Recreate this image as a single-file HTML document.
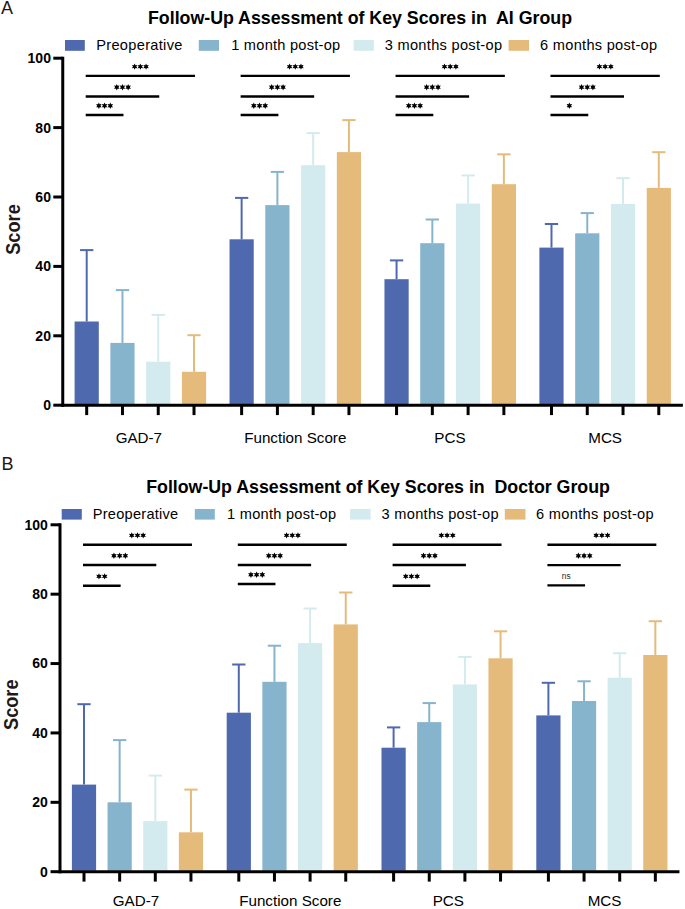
<!DOCTYPE html>
<html><head><meta charset="utf-8"><style>
html,body{margin:0;padding:0;background:#fff;width:685px;height:909px;overflow:hidden}
svg{display:block}
text{font-family:"Liberation Sans", sans-serif}
</style></head><body>
<svg width="685" height="909" viewBox="0 0 685 909">
<rect width="685" height="909" fill="#fff"/>
<text x="1.00" y="13.80" font-size="18" font-weight="normal" text-anchor="start" fill="#231815" >A</text>
<text x="148.00" y="24.00" font-size="17.8" font-weight="bold" text-anchor="start" fill="#000" textLength="424" xml:space="preserve">Follow-Up Assessment of Key Scores in  AI Group</text>
<rect x="65.00" y="40.00" width="19.80" height="10.80" fill="#4F69AF"/>
<text x="96.20" y="50.25" font-size="14.6" font-weight="normal" text-anchor="start" fill="#000" textLength="86.2">Preoperative</text>
<rect x="198.80" y="40.00" width="20.20" height="10.80" fill="#86B4CD"/>
<text x="231.20" y="50.25" font-size="14.6" font-weight="normal" text-anchor="start" fill="#000" textLength="109.0">1 month post-op</text>
<rect x="353.60" y="40.00" width="20.30" height="10.80" fill="#D3EBEE"/>
<text x="384.70" y="50.25" font-size="14.6" font-weight="normal" text-anchor="start" fill="#000" textLength="117.3">3 months post-op</text>
<rect x="508.60" y="40.00" width="20.40" height="10.80" fill="#E5BB7C"/>
<text x="540.10" y="50.25" font-size="14.6" font-weight="normal" text-anchor="start" fill="#000" textLength="117.0">6 months post-op</text>
<line x1="86.70" y1="321.50" x2="86.70" y2="250.10" stroke="#4F69AF" stroke-width="2.0"/>
<line x1="80.05" y1="250.10" x2="93.35" y2="250.10" stroke="#4F69AF" stroke-width="2.0"/>
<rect x="74.60" y="321.50" width="24.20" height="82.70" fill="#4F69AF"/>
<line x1="86.70" y1="405.20" x2="86.70" y2="415.10" stroke="#000" stroke-width="3.0"/>
<line x1="122.47" y1="342.90" x2="122.47" y2="290.10" stroke="#86B4CD" stroke-width="2.0"/>
<line x1="115.82" y1="290.10" x2="129.12" y2="290.10" stroke="#86B4CD" stroke-width="2.0"/>
<rect x="110.37" y="342.90" width="24.20" height="61.30" fill="#86B4CD"/>
<line x1="122.47" y1="405.20" x2="122.47" y2="415.10" stroke="#000" stroke-width="3.0"/>
<line x1="158.24" y1="361.70" x2="158.24" y2="314.90" stroke="#D3EBEE" stroke-width="2.0"/>
<line x1="151.59" y1="314.90" x2="164.89" y2="314.90" stroke="#D3EBEE" stroke-width="2.0"/>
<rect x="146.14" y="361.70" width="24.20" height="42.50" fill="#D3EBEE"/>
<line x1="158.24" y1="405.20" x2="158.24" y2="415.10" stroke="#000" stroke-width="3.0"/>
<line x1="194.01" y1="371.80" x2="194.01" y2="335.20" stroke="#E5BB7C" stroke-width="2.0"/>
<line x1="187.36" y1="335.20" x2="200.66" y2="335.20" stroke="#E5BB7C" stroke-width="2.0"/>
<rect x="181.91" y="371.80" width="24.20" height="32.40" fill="#E5BB7C"/>
<line x1="194.01" y1="405.20" x2="194.01" y2="415.10" stroke="#000" stroke-width="3.0"/>
<line x1="241.63" y1="239.30" x2="241.63" y2="197.90" stroke="#4F69AF" stroke-width="2.0"/>
<line x1="234.98" y1="197.90" x2="248.28" y2="197.90" stroke="#4F69AF" stroke-width="2.0"/>
<rect x="229.53" y="239.30" width="24.20" height="164.90" fill="#4F69AF"/>
<line x1="241.63" y1="405.20" x2="241.63" y2="415.10" stroke="#000" stroke-width="3.0"/>
<line x1="277.40" y1="205.10" x2="277.40" y2="171.90" stroke="#86B4CD" stroke-width="2.0"/>
<line x1="270.75" y1="171.90" x2="284.05" y2="171.90" stroke="#86B4CD" stroke-width="2.0"/>
<rect x="265.30" y="205.10" width="24.20" height="199.10" fill="#86B4CD"/>
<line x1="277.40" y1="405.20" x2="277.40" y2="415.10" stroke="#000" stroke-width="3.0"/>
<line x1="313.17" y1="165.20" x2="313.17" y2="133.10" stroke="#D3EBEE" stroke-width="2.0"/>
<line x1="306.52" y1="133.10" x2="319.82" y2="133.10" stroke="#D3EBEE" stroke-width="2.0"/>
<rect x="301.07" y="165.20" width="24.20" height="239.00" fill="#D3EBEE"/>
<line x1="313.17" y1="405.20" x2="313.17" y2="415.10" stroke="#000" stroke-width="3.0"/>
<line x1="348.94" y1="152.10" x2="348.94" y2="120.10" stroke="#E5BB7C" stroke-width="2.0"/>
<line x1="342.29" y1="120.10" x2="355.59" y2="120.10" stroke="#E5BB7C" stroke-width="2.0"/>
<rect x="336.84" y="152.10" width="24.20" height="252.10" fill="#E5BB7C"/>
<line x1="348.94" y1="405.20" x2="348.94" y2="415.10" stroke="#000" stroke-width="3.0"/>
<line x1="396.56" y1="279.20" x2="396.56" y2="260.40" stroke="#4F69AF" stroke-width="2.0"/>
<line x1="389.91" y1="260.40" x2="403.21" y2="260.40" stroke="#4F69AF" stroke-width="2.0"/>
<rect x="384.46" y="279.20" width="24.20" height="125.00" fill="#4F69AF"/>
<line x1="396.56" y1="405.20" x2="396.56" y2="415.10" stroke="#000" stroke-width="3.0"/>
<line x1="432.33" y1="243.20" x2="432.33" y2="219.50" stroke="#86B4CD" stroke-width="2.0"/>
<line x1="425.68" y1="219.50" x2="438.98" y2="219.50" stroke="#86B4CD" stroke-width="2.0"/>
<rect x="420.23" y="243.20" width="24.20" height="161.00" fill="#86B4CD"/>
<line x1="432.33" y1="405.20" x2="432.33" y2="415.10" stroke="#000" stroke-width="3.0"/>
<line x1="468.10" y1="203.50" x2="468.10" y2="175.40" stroke="#D3EBEE" stroke-width="2.0"/>
<line x1="461.45" y1="175.40" x2="474.75" y2="175.40" stroke="#D3EBEE" stroke-width="2.0"/>
<rect x="456.00" y="203.50" width="24.20" height="200.70" fill="#D3EBEE"/>
<line x1="468.10" y1="405.20" x2="468.10" y2="415.10" stroke="#000" stroke-width="3.0"/>
<line x1="503.87" y1="184.20" x2="503.87" y2="154.30" stroke="#E5BB7C" stroke-width="2.0"/>
<line x1="497.22" y1="154.30" x2="510.52" y2="154.30" stroke="#E5BB7C" stroke-width="2.0"/>
<rect x="491.77" y="184.20" width="24.20" height="220.00" fill="#E5BB7C"/>
<line x1="503.87" y1="405.20" x2="503.87" y2="415.10" stroke="#000" stroke-width="3.0"/>
<line x1="551.49" y1="247.60" x2="551.49" y2="224.00" stroke="#4F69AF" stroke-width="2.0"/>
<line x1="544.84" y1="224.00" x2="558.14" y2="224.00" stroke="#4F69AF" stroke-width="2.0"/>
<rect x="539.39" y="247.60" width="24.20" height="156.60" fill="#4F69AF"/>
<line x1="551.49" y1="405.20" x2="551.49" y2="415.10" stroke="#000" stroke-width="3.0"/>
<line x1="587.26" y1="233.30" x2="587.26" y2="213.10" stroke="#86B4CD" stroke-width="2.0"/>
<line x1="580.61" y1="213.10" x2="593.91" y2="213.10" stroke="#86B4CD" stroke-width="2.0"/>
<rect x="575.16" y="233.30" width="24.20" height="170.90" fill="#86B4CD"/>
<line x1="587.26" y1="405.20" x2="587.26" y2="415.10" stroke="#000" stroke-width="3.0"/>
<line x1="623.03" y1="203.90" x2="623.03" y2="178.20" stroke="#D3EBEE" stroke-width="2.0"/>
<line x1="616.38" y1="178.20" x2="629.68" y2="178.20" stroke="#D3EBEE" stroke-width="2.0"/>
<rect x="610.93" y="203.90" width="24.20" height="200.30" fill="#D3EBEE"/>
<line x1="623.03" y1="405.20" x2="623.03" y2="415.10" stroke="#000" stroke-width="3.0"/>
<line x1="658.80" y1="187.90" x2="658.80" y2="152.20" stroke="#E5BB7C" stroke-width="2.0"/>
<line x1="652.15" y1="152.20" x2="665.45" y2="152.20" stroke="#E5BB7C" stroke-width="2.0"/>
<rect x="646.70" y="187.90" width="24.20" height="216.30" fill="#E5BB7C"/>
<line x1="658.80" y1="405.20" x2="658.80" y2="415.10" stroke="#000" stroke-width="3.0"/>
<line x1="62.75" y1="56.70" x2="62.75" y2="406.70" stroke="#000" stroke-width="3.0"/>
<line x1="61.25" y1="405.20" x2="682.90" y2="405.20" stroke="#000" stroke-width="3.0"/>
<line x1="53.30" y1="58.20" x2="62.75" y2="58.20" stroke="#000" stroke-width="3.0"/>
<text x="50.95" y="63.10" font-size="14" font-weight="bold" text-anchor="end" fill="#000" >100</text>
<line x1="53.30" y1="127.60" x2="62.75" y2="127.60" stroke="#000" stroke-width="3.0"/>
<text x="50.95" y="132.50" font-size="14" font-weight="bold" text-anchor="end" fill="#000" >80</text>
<line x1="53.30" y1="197.00" x2="62.75" y2="197.00" stroke="#000" stroke-width="3.0"/>
<text x="50.95" y="201.90" font-size="14" font-weight="bold" text-anchor="end" fill="#000" >60</text>
<line x1="53.30" y1="266.40" x2="62.75" y2="266.40" stroke="#000" stroke-width="3.0"/>
<text x="50.95" y="271.30" font-size="14" font-weight="bold" text-anchor="end" fill="#000" >40</text>
<line x1="53.30" y1="335.80" x2="62.75" y2="335.80" stroke="#000" stroke-width="3.0"/>
<text x="50.95" y="340.70" font-size="14" font-weight="bold" text-anchor="end" fill="#000" >20</text>
<line x1="53.30" y1="405.20" x2="62.75" y2="405.20" stroke="#000" stroke-width="3.0"/>
<text x="50.95" y="410.10" font-size="14" font-weight="bold" text-anchor="end" fill="#000" >0</text>
<text x="138.85" y="443.30" font-size="15.2" font-weight="normal" text-anchor="middle" fill="#000" >GAD-7</text>
<text x="295.28" y="443.30" font-size="15.2" font-weight="normal" text-anchor="middle" fill="#000" >Function Score</text>
<text x="449.92" y="443.30" font-size="15.2" font-weight="normal" text-anchor="middle" fill="#000" >PCS</text>
<text x="605.14" y="443.30" font-size="15.2" font-weight="normal" text-anchor="middle" fill="#000" >MCS</text>
<text x="0" y="0" font-size="18.2" font-weight="bold" text-anchor="middle" fill="#231815" transform="translate(19.70,229.50) rotate(-90) scale(1,1.07)">Score</text>
<line x1="85.70" y1="75.90" x2="195.01" y2="75.90" stroke="#000" stroke-width="2.4"/>
<polygon points="134.66,63.40 133.83,65.17 131.88,65.00 133.00,66.60 131.88,68.20 133.83,68.03 134.66,69.80 135.48,68.03 137.43,68.20 136.31,66.60 137.43,65.00 135.48,65.17" fill="#000"/>
<polygon points="140.35,63.40 139.53,65.17 137.58,65.00 138.70,66.60 137.58,68.20 139.53,68.03 140.35,69.80 141.18,68.03 143.13,68.20 142.00,66.60 143.13,65.00 141.18,65.17" fill="#000"/>
<polygon points="146.05,63.40 145.23,65.17 143.28,65.00 144.40,66.60 143.28,68.20 145.23,68.03 146.05,69.80 146.88,68.03 148.83,68.20 147.70,66.60 148.83,65.00 146.88,65.17" fill="#000"/>
<line x1="85.70" y1="96.50" x2="159.24" y2="96.50" stroke="#000" stroke-width="2.4"/>
<polygon points="116.77,84.00 115.94,85.77 114.00,85.60 115.12,87.20 114.00,88.80 115.94,88.63 116.77,90.40 117.59,88.63 119.54,88.80 118.42,87.20 119.54,85.60 117.59,85.77" fill="#000"/>
<polygon points="122.47,84.00 121.64,85.77 119.70,85.60 120.82,87.20 119.70,88.80 121.64,88.63 122.47,90.40 123.29,88.63 125.24,88.80 124.12,87.20 125.24,85.60 123.29,85.77" fill="#000"/>
<polygon points="128.17,84.00 127.34,85.77 125.40,85.60 126.52,87.20 125.40,88.80 127.34,88.63 128.17,90.40 128.99,88.63 130.94,88.80 129.82,87.20 130.94,85.60 128.99,85.77" fill="#000"/>
<line x1="85.70" y1="115.00" x2="123.47" y2="115.00" stroke="#000" stroke-width="2.4"/>
<polygon points="98.88,102.50 98.06,104.27 96.11,104.10 97.23,105.70 96.11,107.30 98.06,107.13 98.88,108.90 99.71,107.13 101.66,107.30 100.53,105.70 101.66,104.10 99.71,104.27" fill="#000"/>
<polygon points="104.58,102.50 103.76,104.27 101.81,104.10 102.93,105.70 101.81,107.30 103.76,107.13 104.58,108.90 105.41,107.13 107.36,107.30 106.23,105.70 107.36,104.10 105.41,104.27" fill="#000"/>
<polygon points="110.28,102.50 109.46,104.27 107.51,104.10 108.63,105.70 107.51,107.30 109.46,107.13 110.28,108.90 111.11,107.13 113.06,107.30 111.94,105.70 113.06,104.10 111.11,104.27" fill="#000"/>
<line x1="240.63" y1="75.90" x2="349.94" y2="75.90" stroke="#000" stroke-width="2.4"/>
<polygon points="289.59,63.40 288.76,65.17 286.81,65.00 287.94,66.60 286.81,68.20 288.76,68.03 289.59,69.80 290.41,68.03 292.36,68.20 291.24,66.60 292.36,65.00 290.41,65.17" fill="#000"/>
<polygon points="295.29,63.40 294.46,65.17 292.51,65.00 293.64,66.60 292.51,68.20 294.46,68.03 295.29,69.80 296.11,68.03 298.06,68.20 296.94,66.60 298.06,65.00 296.11,65.17" fill="#000"/>
<polygon points="300.99,63.40 300.16,65.17 298.21,65.00 299.34,66.60 298.21,68.20 300.16,68.03 300.99,69.80 301.81,68.03 303.76,68.20 302.63,66.60 303.76,65.00 301.81,65.17" fill="#000"/>
<line x1="240.63" y1="96.50" x2="314.17" y2="96.50" stroke="#000" stroke-width="2.4"/>
<polygon points="271.70,84.00 270.88,85.77 268.93,85.60 270.05,87.20 268.93,88.80 270.88,88.63 271.70,90.40 272.52,88.63 274.47,88.80 273.35,87.20 274.47,85.60 272.52,85.77" fill="#000"/>
<polygon points="277.40,84.00 276.57,85.77 274.63,85.60 275.75,87.20 274.63,88.80 276.57,88.63 277.40,90.40 278.22,88.63 280.17,88.80 279.05,87.20 280.17,85.60 278.22,85.77" fill="#000"/>
<polygon points="283.10,84.00 282.27,85.77 280.33,85.60 281.45,87.20 280.33,88.80 282.27,88.63 283.10,90.40 283.92,88.63 285.87,88.80 284.75,87.20 285.87,85.60 283.92,85.77" fill="#000"/>
<line x1="240.63" y1="115.00" x2="278.40" y2="115.00" stroke="#000" stroke-width="2.4"/>
<polygon points="253.81,102.50 252.99,104.27 251.04,104.10 252.16,105.70 251.04,107.30 252.99,107.13 253.81,108.90 254.64,107.13 256.59,107.30 255.47,105.70 256.59,104.10 254.64,104.27" fill="#000"/>
<polygon points="259.51,102.50 258.69,104.27 256.74,104.10 257.87,105.70 256.74,107.30 258.69,107.13 259.51,108.90 260.34,107.13 262.29,107.30 261.16,105.70 262.29,104.10 260.34,104.27" fill="#000"/>
<polygon points="265.21,102.50 264.39,104.27 262.44,104.10 263.56,105.70 262.44,107.30 264.39,107.13 265.21,108.90 266.04,107.13 267.99,107.30 266.86,105.70 267.99,104.10 266.04,104.27" fill="#000"/>
<line x1="395.56" y1="75.90" x2="504.87" y2="75.90" stroke="#000" stroke-width="2.4"/>
<polygon points="444.52,63.40 443.69,65.17 441.74,65.00 442.87,66.60 441.74,68.20 443.69,68.03 444.52,69.80 445.34,68.03 447.29,68.20 446.17,66.60 447.29,65.00 445.34,65.17" fill="#000"/>
<polygon points="450.22,63.40 449.39,65.17 447.44,65.00 448.57,66.60 447.44,68.20 449.39,68.03 450.22,69.80 451.04,68.03 452.99,68.20 451.87,66.60 452.99,65.00 451.04,65.17" fill="#000"/>
<polygon points="455.92,63.40 455.09,65.17 453.14,65.00 454.27,66.60 453.14,68.20 455.09,68.03 455.92,69.80 456.74,68.03 458.69,68.20 457.56,66.60 458.69,65.00 456.74,65.17" fill="#000"/>
<line x1="395.56" y1="96.50" x2="469.10" y2="96.50" stroke="#000" stroke-width="2.4"/>
<polygon points="426.63,84.00 425.81,85.77 423.86,85.60 424.98,87.20 423.86,88.80 425.81,88.63 426.63,90.40 427.46,88.63 429.40,88.80 428.28,87.20 429.40,85.60 427.46,85.77" fill="#000"/>
<polygon points="432.33,84.00 431.51,85.77 429.56,85.60 430.68,87.20 429.56,88.80 431.51,88.63 432.33,90.40 433.16,88.63 435.10,88.80 433.98,87.20 435.10,85.60 433.16,85.77" fill="#000"/>
<polygon points="438.03,84.00 437.21,85.77 435.26,85.60 436.38,87.20 435.26,88.80 437.21,88.63 438.03,90.40 438.86,88.63 440.80,88.80 439.68,87.20 440.80,85.60 438.86,85.77" fill="#000"/>
<line x1="395.56" y1="115.00" x2="433.33" y2="115.00" stroke="#000" stroke-width="2.4"/>
<polygon points="408.75,102.50 407.92,104.27 405.97,104.10 407.10,105.70 405.97,107.30 407.92,107.13 408.75,108.90 409.57,107.13 411.52,107.30 410.40,105.70 411.52,104.10 409.57,104.27" fill="#000"/>
<polygon points="414.45,102.50 413.62,104.27 411.67,104.10 412.80,105.70 411.67,107.30 413.62,107.13 414.45,108.90 415.27,107.13 417.22,107.30 416.10,105.70 417.22,104.10 415.27,104.27" fill="#000"/>
<polygon points="420.15,102.50 419.32,104.27 417.37,104.10 418.50,105.70 417.37,107.30 419.32,107.13 420.15,108.90 420.97,107.13 422.92,107.30 421.80,105.70 422.92,104.10 420.97,104.27" fill="#000"/>
<line x1="550.49" y1="75.90" x2="659.80" y2="75.90" stroke="#000" stroke-width="2.4"/>
<polygon points="599.44,63.40 598.62,65.17 596.67,65.00 597.79,66.60 596.67,68.20 598.62,68.03 599.44,69.80 600.27,68.03 602.22,68.20 601.09,66.60 602.22,65.00 600.27,65.17" fill="#000"/>
<polygon points="605.14,63.40 604.32,65.17 602.37,65.00 603.50,66.60 602.37,68.20 604.32,68.03 605.14,69.80 605.97,68.03 607.92,68.20 606.79,66.60 607.92,65.00 605.97,65.17" fill="#000"/>
<polygon points="610.85,63.40 610.02,65.17 608.07,65.00 609.20,66.60 608.07,68.20 610.02,68.03 610.85,69.80 611.67,68.03 613.62,68.20 612.50,66.60 613.62,65.00 611.67,65.17" fill="#000"/>
<line x1="550.49" y1="96.50" x2="624.03" y2="96.50" stroke="#000" stroke-width="2.4"/>
<polygon points="581.56,84.00 580.73,85.77 578.79,85.60 579.91,87.20 578.79,88.80 580.73,88.63 581.56,90.40 582.38,88.63 584.33,88.80 583.21,87.20 584.33,85.60 582.38,85.77" fill="#000"/>
<polygon points="587.26,84.00 586.43,85.77 584.49,85.60 585.61,87.20 584.49,88.80 586.43,88.63 587.26,90.40 588.09,88.63 590.03,88.80 588.91,87.20 590.03,85.60 588.09,85.77" fill="#000"/>
<polygon points="592.96,84.00 592.13,85.77 590.19,85.60 591.31,87.20 590.19,88.80 592.13,88.63 592.96,90.40 593.79,88.63 595.73,88.80 594.61,87.20 595.73,85.60 593.79,85.77" fill="#000"/>
<line x1="550.49" y1="115.00" x2="588.26" y2="115.00" stroke="#000" stroke-width="2.4"/>
<polygon points="569.38,102.50 568.55,104.27 566.60,104.10 567.73,105.70 566.60,107.30 568.55,107.13 569.38,108.90 570.20,107.13 572.15,107.30 571.02,105.70 572.15,104.10 570.20,104.27" fill="#000"/>
<text x="1.60" y="469.50" font-size="18" font-weight="normal" text-anchor="start" fill="#231815" >B</text>
<text x="146.20" y="492.90" font-size="17.8" font-weight="bold" text-anchor="start" fill="#000" textLength="463.7" xml:space="preserve">Follow-Up Assessment of Key Scores in  Doctor Group</text>
<rect x="61.70" y="509.00" width="20.10" height="10.60" fill="#4F69AF"/>
<text x="92.80" y="519.40" font-size="14.6" font-weight="normal" text-anchor="start" fill="#000" textLength="85.4">Preoperative</text>
<rect x="194.80" y="509.00" width="20.00" height="10.60" fill="#86B4CD"/>
<text x="227.10" y="519.40" font-size="14.6" font-weight="normal" text-anchor="start" fill="#000" textLength="109.0">1 month post-op</text>
<rect x="350.10" y="509.00" width="20.50" height="10.60" fill="#D3EBEE"/>
<text x="381.60" y="519.40" font-size="14.6" font-weight="normal" text-anchor="start" fill="#000" textLength="117.0">3 months post-op</text>
<rect x="504.80" y="509.00" width="20.70" height="10.60" fill="#E5BB7C"/>
<text x="535.90" y="519.40" font-size="14.6" font-weight="normal" text-anchor="start" fill="#000" textLength="117.8">6 months post-op</text>
<line x1="84.00" y1="784.60" x2="84.00" y2="704.20" stroke="#4F69AF" stroke-width="2.0"/>
<line x1="77.35" y1="704.20" x2="90.65" y2="704.20" stroke="#4F69AF" stroke-width="2.0"/>
<rect x="71.90" y="784.60" width="24.20" height="86.10" fill="#4F69AF"/>
<line x1="84.00" y1="871.70" x2="84.00" y2="881.60" stroke="#000" stroke-width="3.0"/>
<line x1="119.65" y1="802.30" x2="119.65" y2="740.10" stroke="#86B4CD" stroke-width="2.0"/>
<line x1="113.00" y1="740.10" x2="126.30" y2="740.10" stroke="#86B4CD" stroke-width="2.0"/>
<rect x="107.55" y="802.30" width="24.20" height="68.40" fill="#86B4CD"/>
<line x1="119.65" y1="871.70" x2="119.65" y2="881.60" stroke="#000" stroke-width="3.0"/>
<line x1="155.30" y1="821.10" x2="155.30" y2="775.60" stroke="#D3EBEE" stroke-width="2.0"/>
<line x1="148.65" y1="775.60" x2="161.95" y2="775.60" stroke="#D3EBEE" stroke-width="2.0"/>
<rect x="143.20" y="821.10" width="24.20" height="49.60" fill="#D3EBEE"/>
<line x1="155.30" y1="871.70" x2="155.30" y2="881.60" stroke="#000" stroke-width="3.0"/>
<line x1="190.95" y1="832.30" x2="190.95" y2="789.60" stroke="#E5BB7C" stroke-width="2.0"/>
<line x1="184.30" y1="789.60" x2="197.60" y2="789.60" stroke="#E5BB7C" stroke-width="2.0"/>
<rect x="178.85" y="832.30" width="24.20" height="38.40" fill="#E5BB7C"/>
<line x1="190.95" y1="871.70" x2="190.95" y2="881.60" stroke="#000" stroke-width="3.0"/>
<line x1="238.80" y1="712.70" x2="238.80" y2="664.50" stroke="#4F69AF" stroke-width="2.0"/>
<line x1="232.15" y1="664.50" x2="245.45" y2="664.50" stroke="#4F69AF" stroke-width="2.0"/>
<rect x="226.70" y="712.70" width="24.20" height="158.00" fill="#4F69AF"/>
<line x1="238.80" y1="871.70" x2="238.80" y2="881.60" stroke="#000" stroke-width="3.0"/>
<line x1="274.45" y1="681.80" x2="274.45" y2="645.70" stroke="#86B4CD" stroke-width="2.0"/>
<line x1="267.80" y1="645.70" x2="281.10" y2="645.70" stroke="#86B4CD" stroke-width="2.0"/>
<rect x="262.35" y="681.80" width="24.20" height="188.90" fill="#86B4CD"/>
<line x1="274.45" y1="871.70" x2="274.45" y2="881.60" stroke="#000" stroke-width="3.0"/>
<line x1="310.10" y1="643.10" x2="310.10" y2="608.50" stroke="#D3EBEE" stroke-width="2.0"/>
<line x1="303.45" y1="608.50" x2="316.75" y2="608.50" stroke="#D3EBEE" stroke-width="2.0"/>
<rect x="298.00" y="643.10" width="24.20" height="227.60" fill="#D3EBEE"/>
<line x1="310.10" y1="871.70" x2="310.10" y2="881.60" stroke="#000" stroke-width="3.0"/>
<line x1="345.75" y1="624.40" x2="345.75" y2="592.50" stroke="#E5BB7C" stroke-width="2.0"/>
<line x1="339.10" y1="592.50" x2="352.40" y2="592.50" stroke="#E5BB7C" stroke-width="2.0"/>
<rect x="333.65" y="624.40" width="24.20" height="246.30" fill="#E5BB7C"/>
<line x1="345.75" y1="871.70" x2="345.75" y2="881.60" stroke="#000" stroke-width="3.0"/>
<line x1="393.60" y1="747.70" x2="393.60" y2="727.40" stroke="#4F69AF" stroke-width="2.0"/>
<line x1="386.95" y1="727.40" x2="400.25" y2="727.40" stroke="#4F69AF" stroke-width="2.0"/>
<rect x="381.50" y="747.70" width="24.20" height="123.00" fill="#4F69AF"/>
<line x1="393.60" y1="871.70" x2="393.60" y2="881.60" stroke="#000" stroke-width="3.0"/>
<line x1="429.25" y1="722.10" x2="429.25" y2="703.10" stroke="#86B4CD" stroke-width="2.0"/>
<line x1="422.60" y1="703.10" x2="435.90" y2="703.10" stroke="#86B4CD" stroke-width="2.0"/>
<rect x="417.15" y="722.10" width="24.20" height="148.60" fill="#86B4CD"/>
<line x1="429.25" y1="871.70" x2="429.25" y2="881.60" stroke="#000" stroke-width="3.0"/>
<line x1="464.90" y1="684.40" x2="464.90" y2="656.90" stroke="#D3EBEE" stroke-width="2.0"/>
<line x1="458.25" y1="656.90" x2="471.55" y2="656.90" stroke="#D3EBEE" stroke-width="2.0"/>
<rect x="452.80" y="684.40" width="24.20" height="186.30" fill="#D3EBEE"/>
<line x1="464.90" y1="871.70" x2="464.90" y2="881.60" stroke="#000" stroke-width="3.0"/>
<line x1="500.55" y1="658.30" x2="500.55" y2="631.30" stroke="#E5BB7C" stroke-width="2.0"/>
<line x1="493.90" y1="631.30" x2="507.20" y2="631.30" stroke="#E5BB7C" stroke-width="2.0"/>
<rect x="488.45" y="658.30" width="24.20" height="212.40" fill="#E5BB7C"/>
<line x1="500.55" y1="871.70" x2="500.55" y2="881.60" stroke="#000" stroke-width="3.0"/>
<line x1="548.40" y1="715.40" x2="548.40" y2="682.80" stroke="#4F69AF" stroke-width="2.0"/>
<line x1="541.75" y1="682.80" x2="555.05" y2="682.80" stroke="#4F69AF" stroke-width="2.0"/>
<rect x="536.30" y="715.40" width="24.20" height="155.30" fill="#4F69AF"/>
<line x1="548.40" y1="871.70" x2="548.40" y2="881.60" stroke="#000" stroke-width="3.0"/>
<line x1="584.05" y1="701.00" x2="584.05" y2="681.30" stroke="#86B4CD" stroke-width="2.0"/>
<line x1="577.40" y1="681.30" x2="590.70" y2="681.30" stroke="#86B4CD" stroke-width="2.0"/>
<rect x="571.95" y="701.00" width="24.20" height="169.70" fill="#86B4CD"/>
<line x1="584.05" y1="871.70" x2="584.05" y2="881.60" stroke="#000" stroke-width="3.0"/>
<line x1="619.70" y1="677.70" x2="619.70" y2="653.20" stroke="#D3EBEE" stroke-width="2.0"/>
<line x1="613.05" y1="653.20" x2="626.35" y2="653.20" stroke="#D3EBEE" stroke-width="2.0"/>
<rect x="607.60" y="677.70" width="24.20" height="193.00" fill="#D3EBEE"/>
<line x1="619.70" y1="871.70" x2="619.70" y2="881.60" stroke="#000" stroke-width="3.0"/>
<line x1="655.35" y1="655.00" x2="655.35" y2="621.20" stroke="#E5BB7C" stroke-width="2.0"/>
<line x1="648.70" y1="621.20" x2="662.00" y2="621.20" stroke="#E5BB7C" stroke-width="2.0"/>
<rect x="643.25" y="655.00" width="24.20" height="215.70" fill="#E5BB7C"/>
<line x1="655.35" y1="871.70" x2="655.35" y2="881.60" stroke="#000" stroke-width="3.0"/>
<line x1="60.00" y1="523.30" x2="60.00" y2="873.20" stroke="#000" stroke-width="3.0"/>
<line x1="58.50" y1="871.70" x2="679.45" y2="871.70" stroke="#000" stroke-width="3.0"/>
<line x1="50.55" y1="524.80" x2="60.00" y2="524.80" stroke="#000" stroke-width="3.0"/>
<text x="47.80" y="529.70" font-size="14" font-weight="bold" text-anchor="end" fill="#000" >100</text>
<line x1="50.55" y1="594.18" x2="60.00" y2="594.18" stroke="#000" stroke-width="3.0"/>
<text x="47.80" y="599.08" font-size="14" font-weight="bold" text-anchor="end" fill="#000" >80</text>
<line x1="50.55" y1="663.56" x2="60.00" y2="663.56" stroke="#000" stroke-width="3.0"/>
<text x="47.80" y="668.46" font-size="14" font-weight="bold" text-anchor="end" fill="#000" >60</text>
<line x1="50.55" y1="732.94" x2="60.00" y2="732.94" stroke="#000" stroke-width="3.0"/>
<text x="47.80" y="737.84" font-size="14" font-weight="bold" text-anchor="end" fill="#000" >40</text>
<line x1="50.55" y1="802.32" x2="60.00" y2="802.32" stroke="#000" stroke-width="3.0"/>
<text x="47.80" y="807.22" font-size="14" font-weight="bold" text-anchor="end" fill="#000" >20</text>
<line x1="50.55" y1="871.70" x2="60.00" y2="871.70" stroke="#000" stroke-width="3.0"/>
<text x="47.80" y="876.60" font-size="14" font-weight="bold" text-anchor="end" fill="#000" >0</text>
<text x="135.97" y="906.10" font-size="15.2" font-weight="normal" text-anchor="middle" fill="#000" >GAD-7</text>
<text x="290.27" y="906.10" font-size="15.2" font-weight="normal" text-anchor="middle" fill="#000" >Function Score</text>
<text x="448.27" y="906.10" font-size="15.2" font-weight="normal" text-anchor="middle" fill="#000" >PCS</text>
<text x="604.58" y="906.10" font-size="15.2" font-weight="normal" text-anchor="middle" fill="#000" >MCS</text>
<text x="0" y="0" font-size="18.2" font-weight="bold" text-anchor="middle" fill="#231815" transform="translate(17.50,704.70) rotate(-90) scale(1,1.07)">Score</text>
<line x1="83.00" y1="544.70" x2="191.95" y2="544.70" stroke="#000" stroke-width="2.4"/>
<polygon points="131.78,532.20 130.95,533.97 129.00,533.80 130.12,535.40 129.00,537.00 130.95,536.83 131.78,538.60 132.60,536.83 134.55,537.00 133.43,535.40 134.55,533.80 132.60,533.97" fill="#000"/>
<polygon points="137.47,532.20 136.65,533.97 134.70,533.80 135.82,535.40 134.70,537.00 136.65,536.83 137.47,538.60 138.30,536.83 140.25,537.00 139.12,535.40 140.25,533.80 138.30,533.97" fill="#000"/>
<polygon points="143.17,532.20 142.35,533.97 140.40,533.80 141.52,535.40 140.40,537.00 142.35,536.83 143.17,538.60 144.00,536.83 145.95,537.00 144.82,535.40 145.95,533.80 144.00,533.97" fill="#000"/>
<line x1="83.00" y1="565.00" x2="156.30" y2="565.00" stroke="#000" stroke-width="2.4"/>
<polygon points="113.95,552.50 113.12,554.27 111.18,554.10 112.30,555.70 111.18,557.30 113.12,557.13 113.95,558.90 114.77,557.13 116.72,557.30 115.60,555.70 116.72,554.10 114.77,554.27" fill="#000"/>
<polygon points="119.65,552.50 118.82,554.27 116.88,554.10 118.00,555.70 116.88,557.30 118.82,557.13 119.65,558.90 120.47,557.13 122.42,557.30 121.30,555.70 122.42,554.10 120.47,554.27" fill="#000"/>
<polygon points="125.35,552.50 124.52,554.27 122.58,554.10 123.70,555.70 122.58,557.30 124.52,557.13 125.35,558.90 126.17,557.13 128.12,557.30 127.00,555.70 128.12,554.10 126.17,554.27" fill="#000"/>
<line x1="83.00" y1="585.70" x2="120.65" y2="585.70" stroke="#000" stroke-width="2.4"/>
<polygon points="98.98,573.20 98.15,574.97 96.20,574.80 97.33,576.40 96.20,578.00 98.15,577.83 98.98,579.60 99.80,577.83 101.75,578.00 100.63,576.40 101.75,574.80 99.80,574.97" fill="#000"/>
<polygon points="104.67,573.20 103.85,574.97 101.90,574.80 103.02,576.40 101.90,578.00 103.85,577.83 104.67,579.60 105.50,577.83 107.45,578.00 106.33,576.40 107.45,574.80 105.50,574.97" fill="#000"/>
<line x1="237.80" y1="544.70" x2="346.75" y2="544.70" stroke="#000" stroke-width="2.4"/>
<polygon points="286.57,532.20 285.75,533.97 283.80,533.80 284.93,535.40 283.80,537.00 285.75,536.83 286.57,538.60 287.40,536.83 289.35,537.00 288.22,535.40 289.35,533.80 287.40,533.97" fill="#000"/>
<polygon points="292.27,532.20 291.45,533.97 289.50,533.80 290.62,535.40 289.50,537.00 291.45,536.83 292.27,538.60 293.10,536.83 295.05,537.00 293.92,535.40 295.05,533.80 293.10,533.97" fill="#000"/>
<polygon points="297.97,532.20 297.15,533.97 295.20,533.80 296.32,535.40 295.20,537.00 297.15,536.83 297.97,538.60 298.80,536.83 300.75,537.00 299.62,535.40 300.75,533.80 298.80,533.97" fill="#000"/>
<line x1="237.80" y1="565.00" x2="311.10" y2="565.00" stroke="#000" stroke-width="2.4"/>
<polygon points="268.75,552.50 267.93,554.27 265.98,554.10 267.10,555.70 265.98,557.30 267.93,557.13 268.75,558.90 269.58,557.13 271.52,557.30 270.40,555.70 271.52,554.10 269.58,554.27" fill="#000"/>
<polygon points="274.45,552.50 273.63,554.27 271.68,554.10 272.80,555.70 271.68,557.30 273.63,557.13 274.45,558.90 275.28,557.13 277.22,557.30 276.10,555.70 277.22,554.10 275.28,554.27" fill="#000"/>
<polygon points="280.15,552.50 279.33,554.27 277.38,554.10 278.50,555.70 277.38,557.30 279.33,557.13 280.15,558.90 280.98,557.13 282.92,557.30 281.80,555.70 282.92,554.10 280.98,554.27" fill="#000"/>
<line x1="237.80" y1="584.00" x2="275.45" y2="584.00" stroke="#000" stroke-width="2.4"/>
<polygon points="250.93,571.50 250.10,573.27 248.15,573.10 249.28,574.70 248.15,576.30 250.10,576.13 250.93,577.90 251.75,576.13 253.70,576.30 252.58,574.70 253.70,573.10 251.75,573.27" fill="#000"/>
<polygon points="256.62,571.50 255.80,573.27 253.85,573.10 254.97,574.70 253.85,576.30 255.80,576.13 256.62,577.90 257.45,576.13 259.40,576.30 258.27,574.70 259.40,573.10 257.45,573.27" fill="#000"/>
<polygon points="262.32,571.50 261.50,573.27 259.55,573.10 260.68,574.70 259.55,576.30 261.50,576.13 262.32,577.90 263.15,576.13 265.10,576.30 263.97,574.70 265.10,573.10 263.15,573.27" fill="#000"/>
<line x1="392.60" y1="544.70" x2="501.55" y2="544.70" stroke="#000" stroke-width="2.4"/>
<polygon points="441.38,532.20 440.55,533.97 438.60,533.80 439.73,535.40 438.60,537.00 440.55,536.83 441.38,538.60 442.20,536.83 444.15,537.00 443.03,535.40 444.15,533.80 442.20,533.97" fill="#000"/>
<polygon points="447.08,532.20 446.25,533.97 444.30,533.80 445.43,535.40 444.30,537.00 446.25,536.83 447.08,538.60 447.90,536.83 449.85,537.00 448.73,535.40 449.85,533.80 447.90,533.97" fill="#000"/>
<polygon points="452.78,532.20 451.95,533.97 450.00,533.80 451.13,535.40 450.00,537.00 451.95,536.83 452.78,538.60 453.60,536.83 455.55,537.00 454.43,535.40 455.55,533.80 453.60,533.97" fill="#000"/>
<line x1="392.60" y1="565.00" x2="465.90" y2="565.00" stroke="#000" stroke-width="2.4"/>
<polygon points="423.55,552.50 422.73,554.27 420.78,554.10 421.90,555.70 420.78,557.30 422.73,557.13 423.55,558.90 424.38,557.13 426.32,557.30 425.20,555.70 426.32,554.10 424.38,554.27" fill="#000"/>
<polygon points="429.25,552.50 428.43,554.27 426.48,554.10 427.60,555.70 426.48,557.30 428.43,557.13 429.25,558.90 430.07,557.13 432.02,557.30 430.90,555.70 432.02,554.10 430.07,554.27" fill="#000"/>
<polygon points="434.95,552.50 434.12,554.27 432.18,554.10 433.30,555.70 432.18,557.30 434.12,557.13 434.95,558.90 435.77,557.13 437.72,557.30 436.60,555.70 437.72,554.10 435.77,554.27" fill="#000"/>
<line x1="392.60" y1="585.70" x2="430.25" y2="585.70" stroke="#000" stroke-width="2.4"/>
<polygon points="405.73,573.20 404.90,574.97 402.95,574.80 404.08,576.40 402.95,578.00 404.90,577.83 405.73,579.60 406.55,577.83 408.50,578.00 407.38,576.40 408.50,574.80 406.55,574.97" fill="#000"/>
<polygon points="411.43,573.20 410.60,574.97 408.65,574.80 409.78,576.40 408.65,578.00 410.60,577.83 411.43,579.60 412.25,577.83 414.20,578.00 413.07,576.40 414.20,574.80 412.25,574.97" fill="#000"/>
<polygon points="417.12,573.20 416.30,574.97 414.35,574.80 415.48,576.40 414.35,578.00 416.30,577.83 417.12,579.60 417.95,577.83 419.90,578.00 418.77,576.40 419.90,574.80 417.95,574.97" fill="#000"/>
<line x1="547.40" y1="544.70" x2="656.35" y2="544.70" stroke="#000" stroke-width="2.4"/>
<polygon points="596.17,532.20 595.35,533.97 593.40,533.80 594.52,535.40 593.40,537.00 595.35,536.83 596.17,538.60 597.00,536.83 598.95,537.00 597.82,535.40 598.95,533.80 597.00,533.97" fill="#000"/>
<polygon points="601.88,532.20 601.05,533.97 599.10,533.80 600.23,535.40 599.10,537.00 601.05,536.83 601.88,538.60 602.70,536.83 604.65,537.00 603.52,535.40 604.65,533.80 602.70,533.97" fill="#000"/>
<polygon points="607.58,532.20 606.75,533.97 604.80,533.80 605.93,535.40 604.80,537.00 606.75,536.83 607.58,538.60 608.40,536.83 610.35,537.00 609.23,535.40 610.35,533.80 608.40,533.97" fill="#000"/>
<line x1="547.40" y1="565.10" x2="620.70" y2="565.10" stroke="#000" stroke-width="2.4"/>
<polygon points="578.35,552.60 577.52,554.37 575.58,554.20 576.70,555.80 575.58,557.40 577.52,557.23 578.35,559.00 579.18,557.23 581.12,557.40 580.00,555.80 581.12,554.20 579.18,554.37" fill="#000"/>
<polygon points="584.05,552.60 583.23,554.37 581.28,554.20 582.40,555.80 581.28,557.40 583.23,557.23 584.05,559.00 584.88,557.23 586.82,557.40 585.70,555.80 586.82,554.20 584.88,554.37" fill="#000"/>
<polygon points="589.75,552.60 588.93,554.37 586.98,554.20 588.10,555.80 586.98,557.40 588.93,557.23 589.75,559.00 590.58,557.23 592.52,557.40 591.40,555.80 592.52,554.20 590.58,554.37" fill="#000"/>
<line x1="547.40" y1="585.40" x2="585.05" y2="585.40" stroke="#000" stroke-width="2.4"/>
<text x="566.23" y="579.20" font-size="8.4" font-weight="normal" text-anchor="middle" fill="#2a2a2a" >ns</text>
</svg>
</body></html>
